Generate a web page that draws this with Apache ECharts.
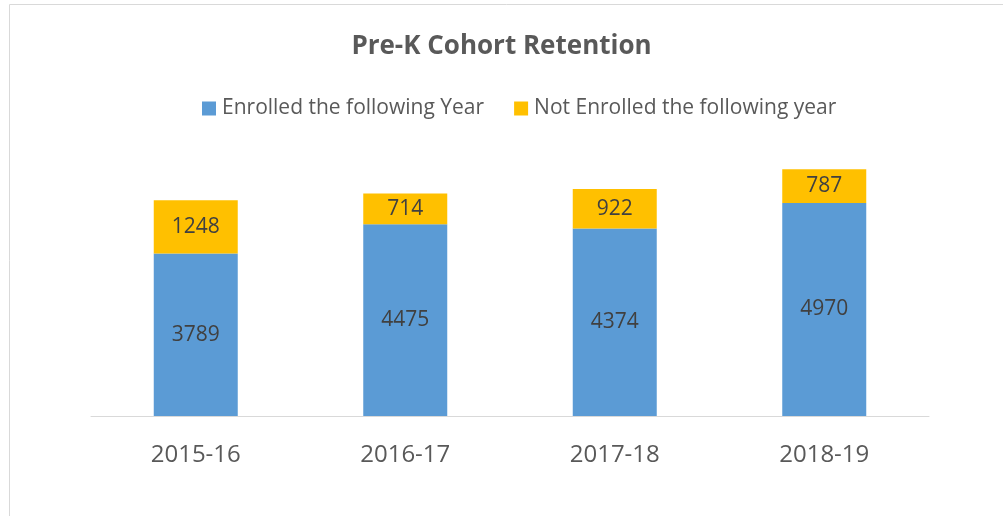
<!DOCTYPE html>
<html><head><meta charset="utf-8">
<script src="https://cdn.jsdelivr.net/npm/echarts@6/dist/echarts.min.js"></script>
<style>html,body{margin:0;padding:0;background:#fff}#c{width:1003px;height:516px}</style>
</head><body><div id="c"></div>
<script>
var categories = ['2015-16', '2016-17', '2017-18', '2018-19'];
var enrolled = [3789, 4475, 4374, 4970];
var notEnrolled = [1248, 714, 922, 787];
var seriesNames = ['Enrolled the following Year', 'Not Enrolled the following year'];

var font = 'Open Sans';
var chart = echarts.init(document.getElementById('c'));
chart.setOption({
  animation: false,
  textStyle: {fontFamily: font},
  graphic: [{type: 'rect', shape: {x: 9.5, y: 4.5, width: 1010, height: 530}, style: {fill: 'none', stroke: '#d9d9d9', lineWidth: 1}, silent: true}],
  title: {text: 'Pre-K Cohort Retention', left: 'center', top: 29,
    textStyle: {fontFamily: font, fontSize: 26, fontWeight: 'bold', color: '#595959'}},
  legend: {top: 93, left: 197, itemWidth: 14, itemHeight: 14, itemGap: 30,
    icon: 'rect',
    textStyle: {fontFamily: font, fontSize: 21, color: '#595959', padding: [0, 0, 0, 1]},
    data: seriesNames},
  grid: {left: 91, right: 74, top: 116, bottom: 100, containLabel: false},
  xAxis: {type: 'category', data: categories,
    axisLine: {lineStyle: {color: '#d9d9d9', width: 1}},
    axisTick: {show: false},
    axisLabel: {fontFamily: font, fontSize: 24, color: '#595959', margin: 27}},
  yAxis: {type: 'value', min: 0, max: 7000, show: false, splitLine: {show: false}},
  series: [
    {name: seriesNames[0], type: 'bar', stack: 's', data: enrolled, barWidth: 84,
      itemStyle: {color: '#5B9BD5'},
      label: {show: true, position: 'inside', fontFamily: font, fontSize: 21, color: '#404040'}},
    {name: seriesNames[1], type: 'bar', stack: 's', data: notEnrolled, barWidth: 84,
      itemStyle: {color: '#FFC000'},
      label: {show: true, position: 'inside', fontFamily: font, fontSize: 21, color: '#404040'}}
  ]
});
</script></body></html>
